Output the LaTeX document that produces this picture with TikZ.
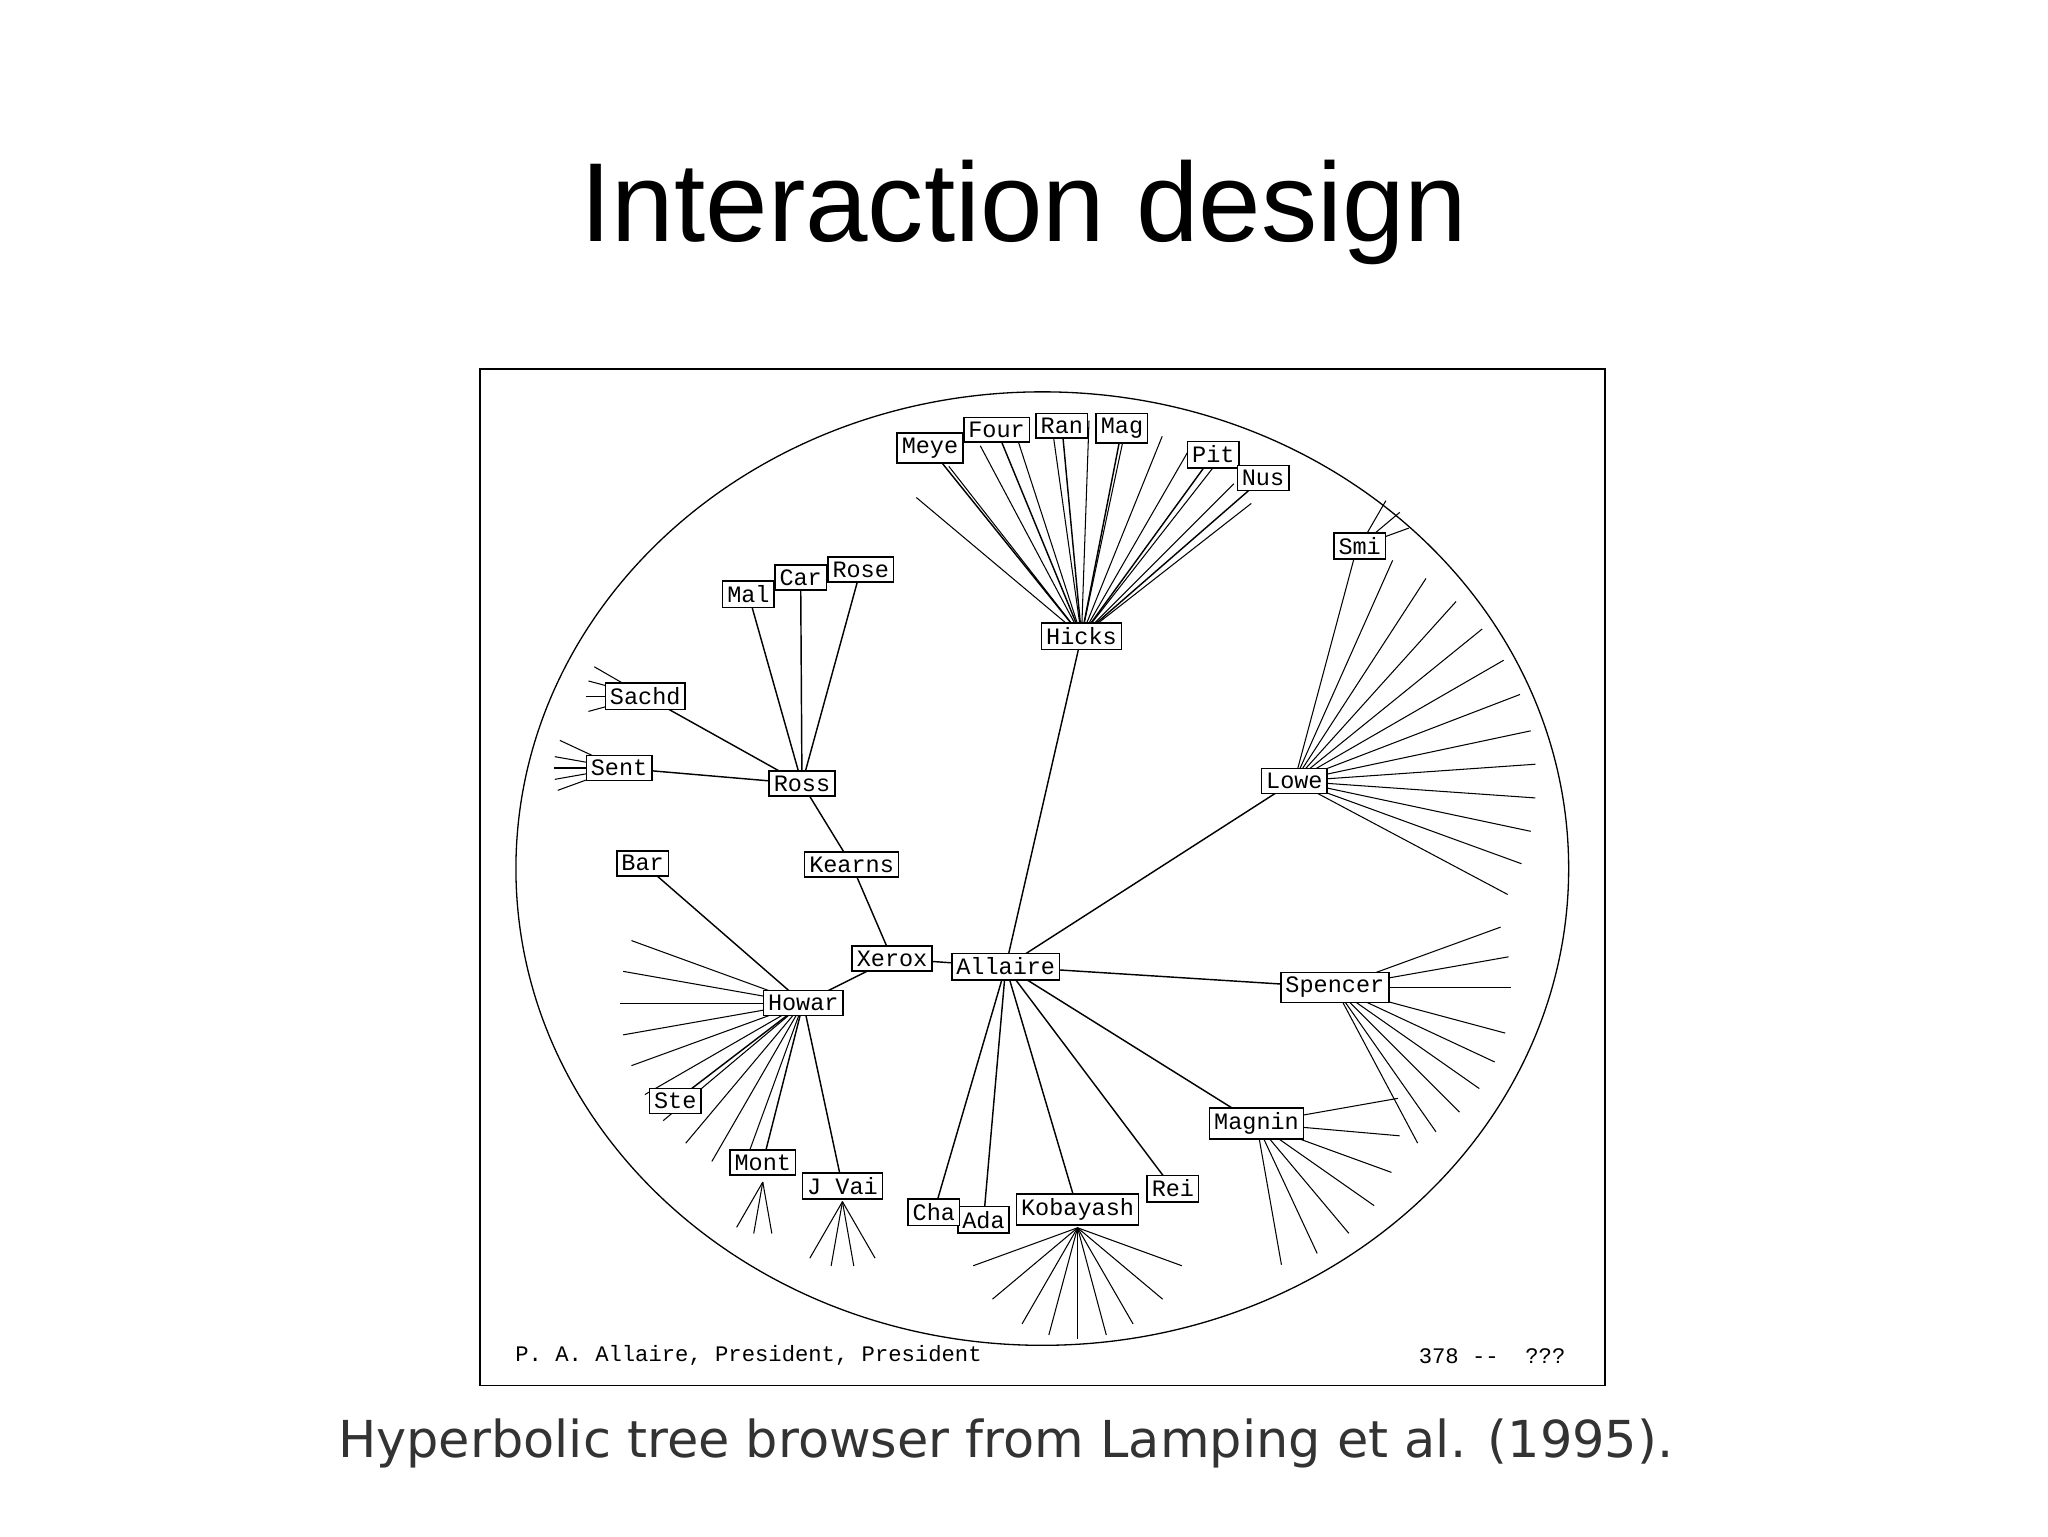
\documentclass[tikz,border=0pt]{standalone}
\usepackage{fontspec}
\setmainfont{Liberation Sans}
\newfontfamily\monof{Liberation Mono}
\newfontfamily\capf{DejaVu Sans}
\usetikzlibrary{calc}
\begin{document}
\begin{tikzpicture}[x=1pt,y=-1pt,
  bx/.style={draw,fill=white,font=\monof\fontsize{18}{18}\selectfont,inner sep=3.5pt,line width=1.2pt},
  ln/.style={line width=1.1pt},
  fan/.style={line width=0.8pt}]
\useasboundingbox (0,0) rectangle (1568,1176);
\node[font=\fontsize{86}{86}\selectfont] (title) at (784,163) {Interaction design};
\node[draw,line width=1.5pt,minimum width=861,minimum height=778,anchor=north west] (frame) at (367,282) {};
\draw[line width=1pt] (798,665) ellipse [x radius=403, y radius=365];
% fans
\coordinate (lo) at (991,598);
\foreach \a in {-75,-66,-57,-48,-39,-30,-21,-12,-4,4,12,20,28}
  \draw[fan] (lo) -- ++(\a:185);
\coordinate (hi) at (828,487);
\foreach \a in {-140,-128,-118,-108,-98,-88,-78,-68,-60,-52,-45,-38}
  \draw[fan] (hi) -- ++(\a:165);
\coordinate (sp) at (1022,756);
\foreach \a in {-20,-10,0,15,25,35,45,55,62}
  \draw[fan] (sp) -- ++(\a:135);
\coordinate (mg) at (962,860);
\foreach \a in {-10,5,20,35,50,65,80}
  \draw[fan] (mg) -- ++(\a:110);
\coordinate (kb) at (825,940);
\foreach \a in {20,40,60,75,90,105,120,140,160}
  \draw[fan] (kb) -- ++(\a:85);
\coordinate (jv) at (645,920);
\foreach \a in {60,80,100,120}
  \draw[fan] (jv) -- ++(\a:50);
\coordinate (mo) at (584,905);
\foreach \a in {80,100,120}
  \draw[fan] (mo) -- ++(\a:40);
\coordinate (hw) at (615,768);
\foreach \a in {-160,-170,180,170,160,150,140,130,120,110}
  \draw[fan] (hw) -- ++(\a:140);
\coordinate (sa) at (494,533);
\foreach \a in {-150,-165,-180,165} \draw[fan] (sa) -- ++(\a:45);
\coordinate (se) at (474,588);
\foreach \a in {-155,-170,180,170,160} \draw[fan] (se) -- ++(\a:50);
\coordinate (sm) at (1041,418);
\foreach \a in {-60,-40,-20} \draw[fan] (sm) -- ++(\a:40);
% edges
\draw[ln] (683,734) -- (770,740);
\draw[ln] (683,734) -- (652,662) -- (614,600);
\foreach \p in {(494,533),(474,588),(573,455),(613,442),(659,436)}
  \draw[ln] (614,600) -- \p;
\draw[ln] (770,740) -- (828,487);
\foreach \p in {(712,343),(763,329),(813,326),(859,328),(929,348),(967,366)}
  \draw[ln] (828,487) -- \p;
\foreach \p in {(991,598),(1022,756),(962,860),(898,910),(825,926),(753,934),(715,928)}
  \draw[ln] (770,740) -- \p;
\draw[ln] (683,734) -- (615,768);
\foreach \p in {(492,661),(517,843),(584,890),(645,908)}
  \draw[ln] (615,768) -- \p;
% nodes
\node[bx] (Allaire) at (770,740) {Allaire};
\node[bx] (Xerox) at (683,734) {Xerox};
\node[bx] (Kearns) at (652,662) {Kearns};
\node[bx] (Ross) at (614,600) {Ross};
\node[bx] (Sachd) at (494,533) {Sachd};
\node[bx] (Sent) at (474,588) {Sent};
\node[bx] (Mal) at (573,455) {Mal};
\node[bx] (Car) at (613,442) {Car};
\node[bx] (Rose) at (659,436) {Rose};
\node[bx] (Hicks) at (828,487) {Hicks};
\node[bx] (Meye) at (712,343) {Meye};
\node[bx] (Four) at (763,329) {Four};
\node[bx] (Ran) at (813,326) {Ran};
\node[bx] (Mag) at (859,328) {Mag};
\node[bx] (Pit) at (929,348) {Pit};
\node[bx] (Nus) at (967,366) {Nus};
\node[bx] (Smi) at (1041,418) {Smi};
\node[bx] (Lowe) at (991,598) {Lowe};
\node[bx] (Spencer) at (1022,756) {Spencer};
\node[bx] (Magnin) at (962,860) {Magnin};
\node[bx] (Rei) at (898,910) {Rei};
\node[bx] (Kob) at (825,926) {Kobayash};
\node[bx] (Ada) at (753,934) {Ada};
\node[bx] (Cha) at (715,928) {Cha};
\node[bx] (JVai) at (645,908) {J Vai};
\node[bx] (Mont) at (584,890) {Mont};
\node[bx] (Ste) at (517,843) {Ste};
\node[bx] (Howar) at (615,768) {Howar};
\node[bx] (Bar) at (492,661) {Bar};
\node[font=\monof\fontsize{17}{17}\selectfont,anchor=west] (foot) at (391,1038) {P. A. Allaire, President, President};
\node[font=\monof\fontsize{17}{17}\selectfont,anchor=east] (num) at (1202,1038) {378 --\ \ ???};
\node[font=\capf\fontsize{39}{39}\selectfont,text=black!80] (cap) at (770,1105) {Hyperbolic tree browser from Lamping et al. (1995).};
\end{tikzpicture}
\end{document}
